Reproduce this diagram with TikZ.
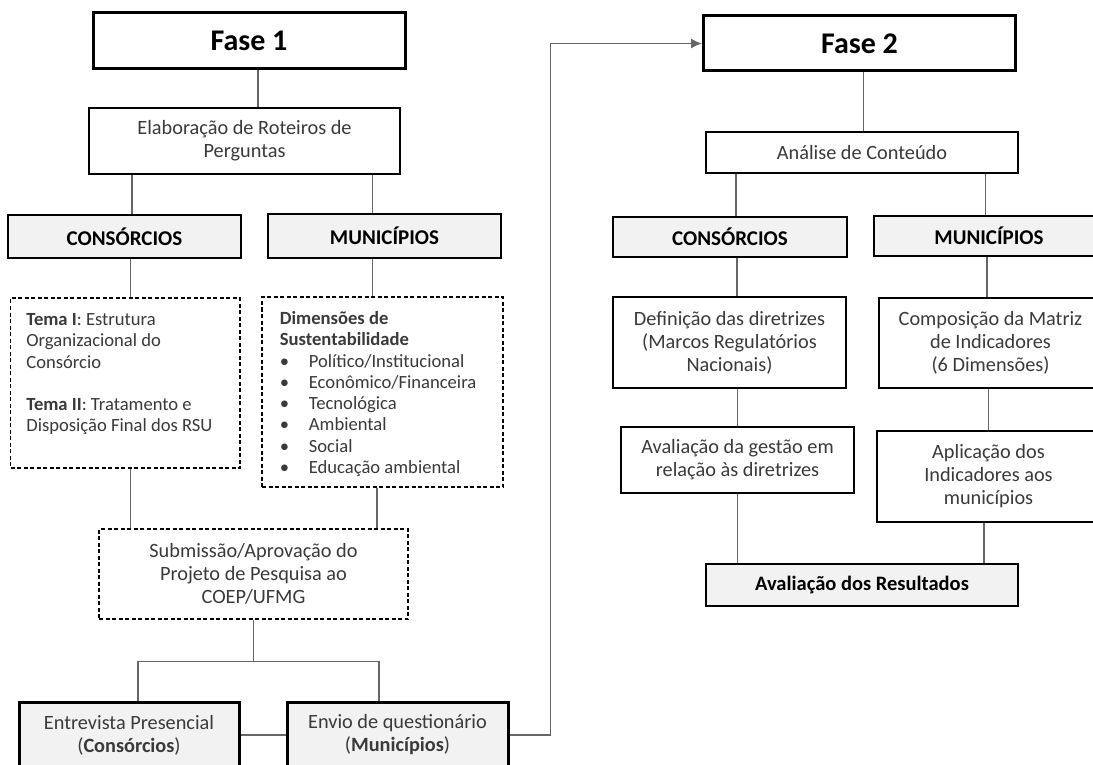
\documentclass[tikz,border=0pt]{standalone}
\usepackage{fontspec}
\setmainfont{Carlito}
\usetikzlibrary{calc,arrows.meta}
\definecolor{boxgray}{HTML}{F2F2F2}
\definecolor{txtgray}{HTML}{3A3A3A}
\definecolor{linegray}{HTML}{666666}

\begin{document}
\begin{tikzpicture}[x=1pt,y=-1pt,
    fase/.style={draw,line width=3pt,fill=white,minimum width=312pt,minimum height=56pt,font=\fontsize{30}{34}\selectfont\bfseries},
    caixa/.style={draw,line width=1.6pt,fill=white,align=center,text=txtgray,font=\fontsize{20.3}{23}\selectfont},
    grupo/.style={draw,line width=1.6pt,fill=boxgray,font=\fontsize{21}{24}\selectfont\bfseries},
    tracejada/.style={draw,line width=1.6pt,dash pattern=on 4pt off 2.5pt,fill=white},
    final/.style={draw,line width=3pt,fill=boxgray,align=center,text=txtgray,font=\fontsize{20.3}{23}\selectfont},
    lista/.style={align=left,inner sep=0pt,text=txtgray,font=\fontsize{18.6}{21.3}\selectfont},
    liga/.style={draw=linegray,line width=1.3pt}]
  \useasboundingbox (0,0) rectangle (1093,765);
  \clip (0,0) rectangle (1093,765);

  % fase 1
  \node[fase](fase1)at(249,41){Fase 1};
  \node[caixa,minimum width=311pt,minimum height=66pt](elab)at(244.5,141){Elaboração de Roteiros de\\Perguntas};
  \node[grupo,minimum width=233pt,minimum height=43pt](consL)at(124.5,236.5){CONSÓRCIOS};
  \node[grupo,minimum width=233pt,minimum height=44pt](munL)at(384.5,236){MUNICÍPIOS};
  \node[tracejada,minimum width=229.5pt,minimum height=170pt](temaL)at(125.25,383){};
  \node[lista,anchor=north west](temaTxt)at([xshift=16.5pt,yshift=-16pt]temaL.north west){%
    \textbf{Tema I}: Estrutura\\Organizacional do\\Consórcio\\[21.3pt]%
    \textbf{Tema II}: Tratamento e\\Disposição Final dos RSU};
  \node[tracejada,minimum width=241pt,minimum height=190pt](dimL)at(382.5,392){};
  \node[lista,anchor=north west](dimTxt)at([xshift=18.5pt,yshift=-15pt]dimL.north west){%
    \textbf{Dimensões de}\\\textbf{Sustentabilidade}\\
    \makebox[29pt][l]{\textbullet}Político/Institucional\\
    \makebox[29pt][l]{\textbullet}Econômico/Financeira\\
    \makebox[29pt][l]{\textbullet}Tecnológica\\
    \makebox[29pt][l]{\textbullet}Ambiental\\
    \makebox[29pt][l]{\textbullet}Social\\
    \makebox[29pt][l]{\textbullet}Educação ambiental};
  \node[caixa,tracejada,minimum width=309pt,minimum height=90pt](subm)at(253.5,574){Submissão/Aprovação do\\Projeto de Pesquisa ao\\COEP/UFMG};
  \node[final,minimum width=220pt,minimum height=66pt](entr)at(129,735){Entrevista Presencial\\(\textbf{Consórcios})};
  \node[final,minimum width=221pt,minimum height=66pt](envio)at(397.5,735){Envio de questionário\\(\textbf{Municípios})};

  \draw[liga]([xshift=9pt]fase1.south)--([xshift=9pt]fase1.south |- elab.north);
  \draw[liga]([xshift=7.5pt]consL.north)--([xshift=7.5pt]consL.north |- elab.south);
  \draw[liga]([xshift=-12pt]munL.north)--([xshift=-12pt]munL.north |- elab.south);
  \draw[liga]([xshift=5.5pt]temaL.north)--([xshift=5.5pt]temaL.north |- consL.south);
  \draw[liga]([xshift=-10pt]dimL.north)--([xshift=-10pt]dimL.north |- munL.south);
  \draw[liga]([xshift=5pt]temaL.south)--([xshift=5pt]temaL.south |- subm.north);
  \draw[liga]([xshift=-5.5pt]dimL.south)--([xshift=-5.5pt]dimL.south |- subm.north);
  \draw[liga](subm.south)--++(0,42)coordinate(split);
  \draw[liga]([xshift=9pt]entr.north)|-(split)-|([xshift=-18.5pt]envio.north);
  \draw[liga](entr.east)--(entr.east -| envio.west);

  % fase 2
  \node[fase,minimum height=55pt](fase2)at(859.5,43.5){Fase 2};
  \node[caixa,minimum width=311.5pt,minimum height=41pt](anal)at(862,152.5){Análise de Conteúdo};
  \node[grupo,minimum width=234pt,minimum height=40pt](consR)at(730,237){CONSÓRCIOS};
  \node[grupo,minimum width=230pt,minimum height=40pt](munR)at(989,236){MUNICÍPIOS};
  \node[caixa,minimum width=233pt,minimum height=91pt](defin)at(729.5,342.5){Definição das diretrizes\\(Marcos Regulatórios\\Nacionais)};
  \node[caixa,minimum width=223pt,minimum height=90pt](compos)at(990.5,343){Composição da Matriz\\de Indicadores\\(6 Dimensões)};
  \node[caixa,minimum width=233pt,minimum height=66pt](avgest)at(737.5,460){Avaliação da gestão em\\relação às diretrizes};
  \node[caixa,minimum width=223pt,minimum height=91pt](aplic)at(988.5,476.5){Aplicação dos\\Indicadores aos\\municípios};
  \node[grupo,minimum width=311.5pt,minimum height=42pt,font=\fontsize{20.5}{23}\selectfont\bfseries](result)at(862,585){Avaliação dos Resultados};

  \draw[liga,-{Latex[length=11pt,width=10pt]}](envio.east)--++(41,0)|-(fase2.west);
  \draw[liga]([xshift=4pt]fase2.south)--([xshift=4pt]fase2.south |- anal.north);
  \draw[liga]([xshift=6pt]consR.north)--([xshift=6pt]consR.north |- anal.south);
  \draw[liga]([xshift=-3.5pt]munR.north)--([xshift=-3.5pt]munR.north |- anal.south);
  \draw[liga]([xshift=7.5pt]defin.north)--([xshift=7.5pt]defin.north |- consR.south);
  \draw[liga]([xshift=-3.5pt]compos.north)--([xshift=-3.5pt]compos.north |- munR.south);
  \draw[liga](avgest.north)--(avgest.north |- defin.south);
  \draw[liga](aplic.north)--(aplic.north |- compos.south);
  \draw[liga](avgest.south)--(avgest.south |- result.north);
  \draw[liga]([xshift=-4.5pt]aplic.south)--([xshift=-4.5pt]aplic.south |- result.north);
\end{tikzpicture}
\end{document}
